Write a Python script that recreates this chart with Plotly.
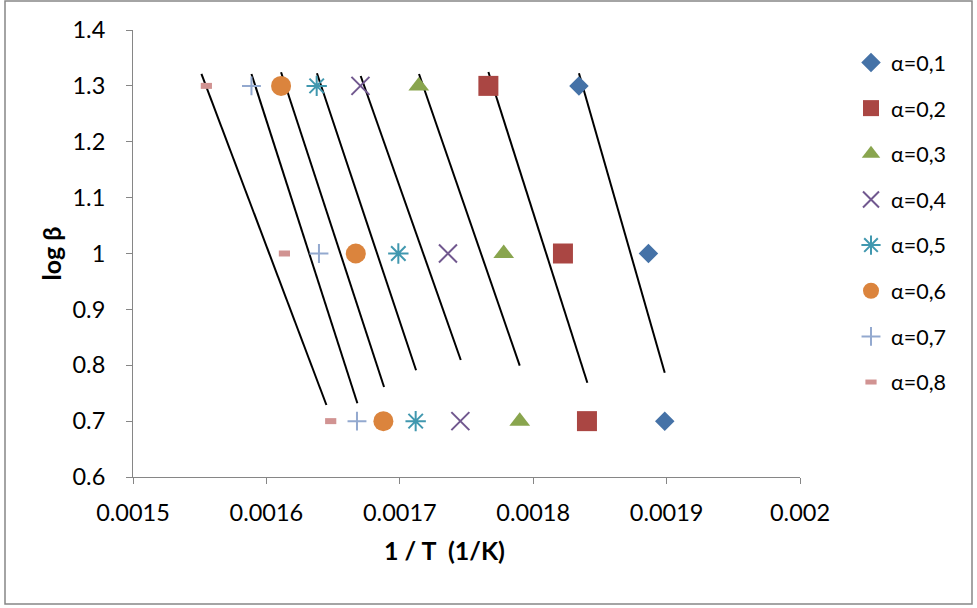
import plotly.graph_objects as go

# ---------------- data ----------------
series_names = ["α=0,1", "α=0,2", "α=0,3", "α=0,4", "α=0,5", "α=0,6", "α=0,7", "α=0,8"]
log_beta = [1.3, 1.0, 0.7]

inv_T_01 = [0.0018343, 0.0018864, 0.0018986]
inv_T_02 = [0.0017664, 0.0018223, 0.0018403]
inv_T_03 = [0.0017142, 0.0017779, 0.0017899]
inv_T_04 = [0.0016705, 0.0017361, 0.0017454]
inv_T_05 = [0.0016377, 0.0016989, 0.0017119]
inv_T_06 = [0.0016110, 0.0016670, 0.0016877]
inv_T_07 = [0.0015888, 0.0016394, 0.0016679]
inv_T_08 = [0.0015550, 0.0016135, 0.0016482]
inv_T = [inv_T_01, inv_T_02, inv_T_03, inv_T_04, inv_T_05, inv_T_06, inv_T_07, inv_T_08]

# hand-drawn fit lines: (x_top, x_bottom), (y_top, y_bottom)
fit_x = [
    [0.0018343, 0.0018986],
    [0.0017664, 0.0018406],
    [0.0017144, 0.0017899],
    [0.0016707, 0.0017457],
    [0.0016379, 0.0017122],
    [0.0016110, 0.0016882],
    [0.0015888, 0.0016682],
    [0.0015513, 0.0016450],
]
fit_y = [
    [1.3225, 0.7867],
    [1.3248, 0.7688],
    [1.3213, 0.7992],
    [1.3177, 0.8094],
    [1.3225, 0.7910],
    [1.3243, 0.7611],
    [1.3213, 0.7319],
    [1.3213, 0.7289],
]

x_tick_vals = [0.0015, 0.0016, 0.0017, 0.0018, 0.0019, 0.002]
x_tick_text = ["0.0015", "0.0016", "0.0017", "0.0018", "0.0019", "0.002"]
y_tick_vals = [0.6, 0.7, 0.8, 0.9, 1.0, 1.1, 1.2, 1.3, 1.4]
y_tick_text = ["0.6", "0.7", "0.8", "0.9", "1", "1.1", "1.2", "1.3", "1.4"]

# ---------------- styles ----------------
colors = ["#4572A7", "#AA4643", "#89A54E", "#71588F", "#4198AF", "#DB843D", "#93A9CF", "#D19392"]
symbols = ["diamond", "square", "triangle-up", "x-thin-open", "asterisk-open",
           "circle", "cross-thin-open", "line-ew-open"]
sizes = [15, 20, 18, 18, 17, 20, 13.5, 8]
line_widths = [0, 0, 0, 2, 2, 0, 2, 6]

FONT = "Lato, 'Open Sans', sans-serif"

fig = go.Figure()

for i in range(len(series_names)):
    fig.add_trace(go.Scatter(
        x=fit_x[i], y=fit_y[i], mode="lines",
        line=dict(color="black", width=2),
        showlegend=False, hoverinfo="skip",
    ))

for i, name in enumerate(series_names):
    open_sym = symbols[i].endswith("-open")
    marker = dict(symbol=symbols[i], size=sizes[i], color=colors[i])
    if open_sym:
        marker["line"] = dict(color=colors[i], width=line_widths[i])
    else:
        marker["line"] = dict(width=0)
    fig.add_trace(go.Scatter(
        x=inv_T[i], y=log_beta, mode="markers", name=name,
        marker=marker, legendgroup=name,
    ))

# plot area: x 133..800 px, y 30..477 px
W, H = 977, 608
L, R, T, B = 133, 977 - 800, 30, 608 - 477
pw, ph = W - L - R, H - T - B

def px_x(p):
    return (p - L) / pw

def px_y(p):
    return 1 - (p - T) / ph

axis_color = "#868686"
fig.update_layout(
    width=W, height=H,
    margin=dict(l=L, r=R, t=T, b=B, pad=0),
    paper_bgcolor="white", plot_bgcolor="white",
    font=dict(family=FONT, size=22, color="black"),
    xaxis=dict(
        range=[0.0015, 0.002], tickvals=x_tick_vals, ticktext=x_tick_text,
        showgrid=False, zeroline=False, showline=True, linecolor=axis_color, linewidth=1,
        ticks="outside", ticklen=6, tickcolor=axis_color, tickwidth=1,
        tickfont=dict(family=FONT, size=23.5, color="black"), ticklabelstandoff=9,
    ),
    yaxis=dict(
        range=[0.6, 1.4], tickvals=y_tick_vals, ticktext=y_tick_text,
        showgrid=False, zeroline=False, showline=True, linecolor=axis_color, linewidth=1,
        ticks="outside", ticklen=6, tickcolor=axis_color, tickwidth=1,
        tickfont=dict(family=FONT, size=23.5, color="black"), ticklabelstandoff=16,
    ),
    legend=dict(
        x=px_x(851), y=px_y(42), xanchor="left", yanchor="top",
        font=dict(family=FONT, size=21.5, color="black"),
        tracegroupgap=14.7, bgcolor="rgba(0,0,0,0)", itemsizing="trace",
    ),
    annotations=[
        dict(text="<b>log β</b>", x=px_x(50), y=0.5, xref="paper", yref="paper",
             textangle=-90, showarrow=False, font=dict(family=FONT, size=25, color="black"),
             xanchor="center", yanchor="middle"),
        dict(text="<b>1 / T  (1/K)</b>", x=px_x(444.5), y=px_y(550), xref="paper", yref="paper",
             showarrow=False, font=dict(family=FONT, size=25, color="black"),
             xanchor="center", yanchor="middle"),
    ],
    shapes=[
        dict(type="rect", xref="paper", yref="paper",
             x0=px_x(5), x1=px_x(972), y0=px_y(604), y1=px_y(1),
             line=dict(color="#868686", width=1.5), fillcolor="rgba(0,0,0,0)", layer="below"),
    ],
)

fig.write_html("out.html")
